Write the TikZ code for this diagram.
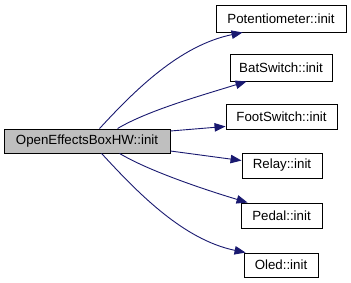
\documentclass[tikz,border=0pt]{standalone}
\usepackage{fontspec}
\setmainfont{Liberation Sans}
\usetikzlibrary{arrows.meta,calc}
\definecolor{edgeblue}{HTML}{191970}
\definecolor{nodegray}{HTML}{BFBFBF}
\begin{document}
\begin{tikzpicture}[x=1pt,y=-1pt,
  fn/.style={draw=black,fill=white,line width=0.9pt,inner sep=0pt,
    minimum height=25pt,font=\fontsize{13.3}{15}\selectfont},
  caller/.style={fn,fill=nodegray},
  call/.style={draw=edgeblue,line width=0.9pt,
    -{Triangle[length=11pt,width=8.5pt]}}]
\useasboundingbox (0,0) rectangle (351,283);
% caller
\node[caller,minimum width=166pt,minimum height=24pt] (main) at (87,141) {OpenEffectsBoxHW::init};
% callees
\node[fn,minimum width=130pt,minimum height=27pt] (pot)   at (281,18.5)  {Potentiometer::init};
\node[fn,minimum width=102pt,minimum height=27pt] (bat)   at (281,67.5)  {BatSwitch::init};
\node[fn,minimum width=111pt] (foot)  at (281.5,116.5) {FootSwitch::init};
\node[fn,minimum width=80pt]  (relay) at (282,165.5) {Relay::init};
\node[fn,minimum width=81pt]  (pedal) at (281.5,215.5) {Pedal::init};
\node[fn,minimum width=74pt,minimum height=24pt]  (oled)  at (281,265) {Oled::init};
% call edges
\draw[call] ($(main.north west)+(96,0)$) .. controls +(35,-38) and +(-63,13) .. ($(pot.south west)+(27,0)$);
\draw[call] ($(main.north west)+(114,0)$) .. controls +(30,-18) and +(-45,14) .. ($(bat.south west)+(17,0)$);
\draw[call] ($(main.east)+(0,-10)$) -- ($(foot.south west)+(0,-3)$);
\draw[call] ($(main.east)+(0,10)$) -- ($(relay.north west)+(0,8)$);
\draw[call] ($(main.south west)+(116,0)$) .. controls +(30,18) and +(-40,-12) .. ($(pedal.north west)+(7,0)$);
\draw[call] ($(main.south west)+(98,0)$) .. controls +(35,38) and +(-63,-13) .. ($(oled.north west)+(2,0)$);
\end{tikzpicture}
\end{document}
